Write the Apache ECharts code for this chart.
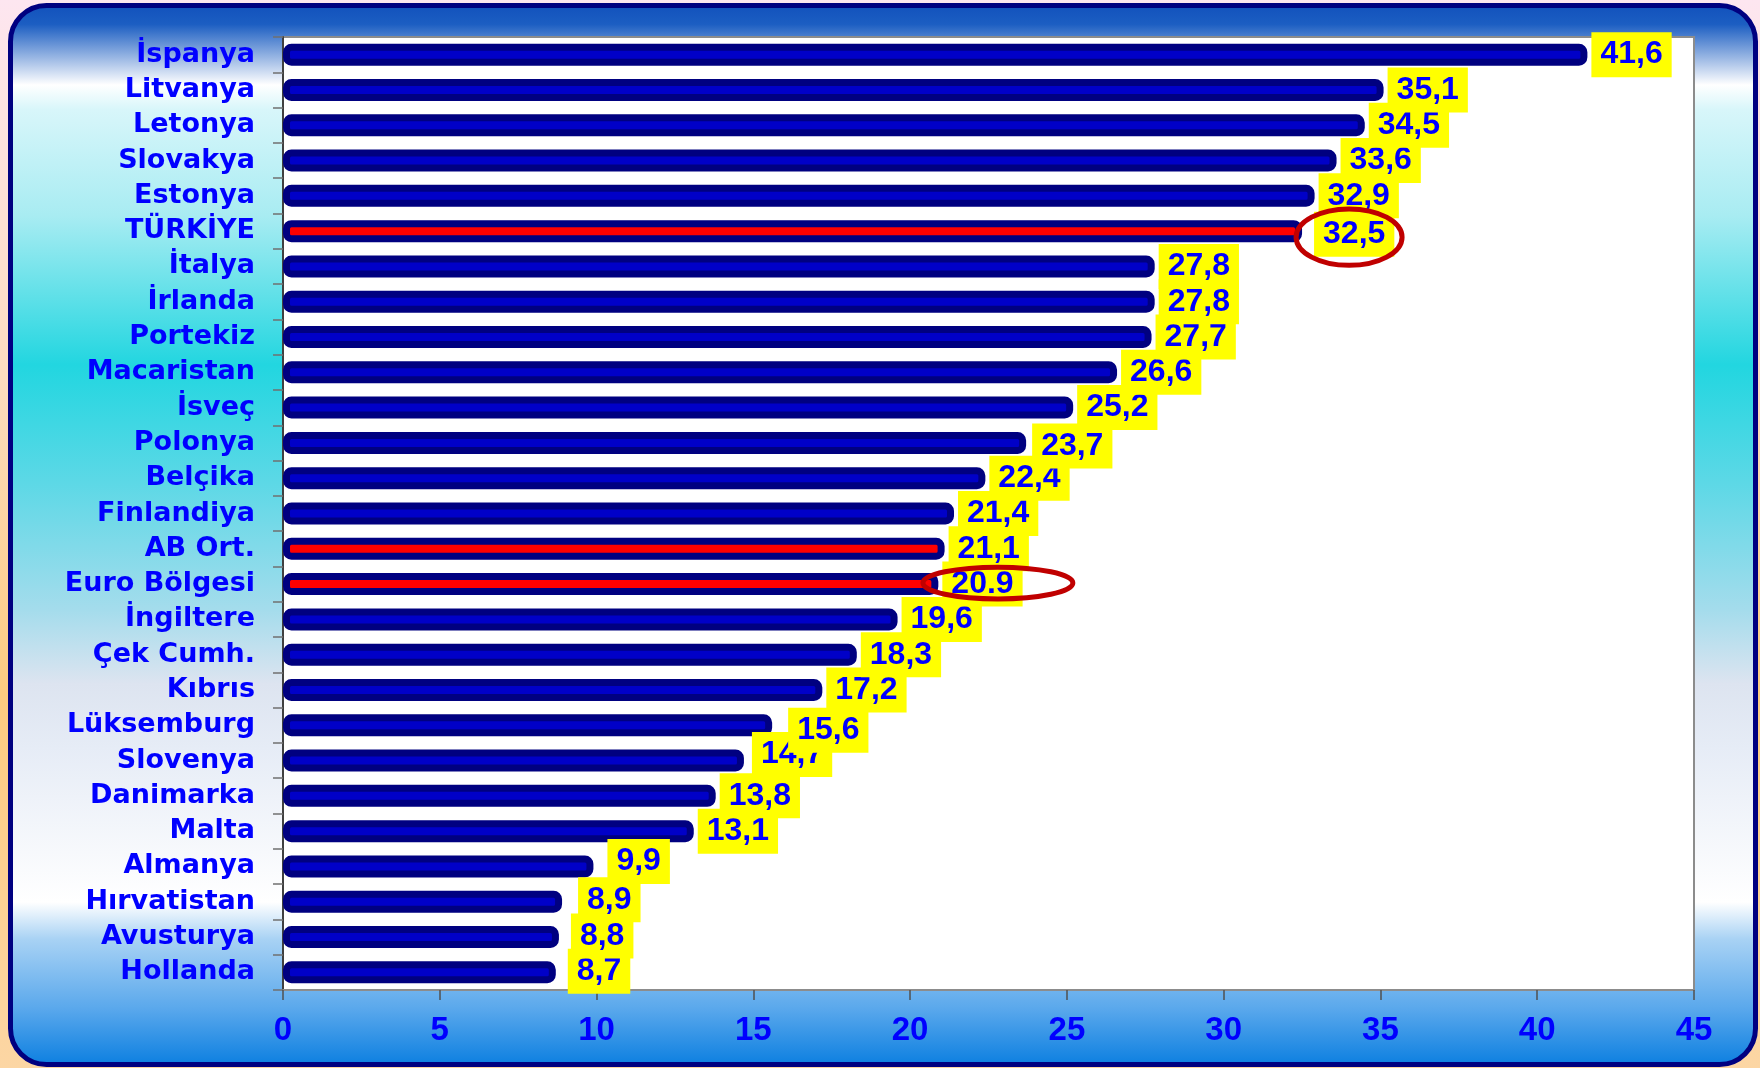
<!DOCTYPE html>
<html>
<head>
<meta charset="utf-8">
<title>Ülkeler</title>
<script src="https://cdn.jsdelivr.net/npm/echarts@6/dist/echarts.min.js"></script>
<style>
  html, body { margin: 0; padding: 0; }
  #chart { width: 1760px; height: 1068px; }
</style>
</head>
<body>
<div id="chart"></div>
<script>
// values, top to bottom
const countries = [
  "İspanya", "Litvanya", "Letonya", "Slovakya", "Estonya", "TÜRKİYE", "İtalya",
  "İrlanda", "Portekiz", "Macaristan", "İsveç", "Polonya", "Belçika", "Finlandiya",
  "AB Ort.", "Euro Bölgesi", "İngiltere", "Çek Cumh.", "Kıbrıs", "Lüksemburg",
  "Slovenya", "Danimarka", "Malta", "Almanya", "Hırvatistan", "Avusturya", "Hollanda",
];
const rates = [
  41.6, 35.1, 34.5, 33.6, 32.9, 32.5, 27.8,
  27.8, 27.7, 26.6, 25.2, 23.7, 22.4, 21.4,
  21.1, 20.9, 19.6, 18.3, 17.2, 15.6,
  14.7, 13.8, 13.1, 9.9, 8.9, 8.8, 8.7,
];
const rateLabels = [
  "41,6", "35,1", "34,5", "33,6", "32,9", "32,5", "27,8",
  "27,8", "27,7", "26,6", "25,2", "23,7", "22,4", "21,4",
  "21,1", "20.9", "19,6", "18,3", "17,2", "15,6",
  "14,7", "13,8", "13,1", "9,9", "8,9", "8,8", "8,7",
];
const redRows = ["TÜRKİYE", "AB Ort.", "Euro Bölgesi"];

// the two hand-drawn ovals: centre on the x axis, half width (axis units), half height (rows)
const ovalRows = ["TÜRKİYE", "Euro Bölgesi"];
const ovalCenter = [34.0, 22.8];
const ovalHalfWidth = [1.69, 2.39];
const ovalHalfHeight = [0.8, 0.45];
const ovalShift = [0.17, -0.03]; // rows, downwards

const font = "'Liberation Sans', Arial, sans-serif";
const wideFont = "'DejaVu Sans', 'Liberation Sans', sans-serif";

// a few labels sit off their bars on the slide
const labelNudge = {
  "TÜRKİYE": [8, 3],
  "Polonya": [2, 3],
  "Lüksemburg": [12, 5],
  "Slovenya": [4, -6],
  "Almanya": [10, -5],
  "Hırvatistan": [12, -2],
  "Avusturya": [8, -1],
  "Hollanda": [8, -1],
};

// drawn bottom row first so the upper labels overlap the lower ones, as on the slide
const rows = countries.slice().reverse();
const rowRates = rates.slice().reverse();
const rowLabels = rateLabels.slice().reverse();

const chart = echarts.init(document.getElementById("chart"));

chart.setOption({
  animation: false,
  graphic: {
    elements: [
      {
        type: "rect",
        z: -20,
        silent: true,
        shape: { x: 0, y: 0, width: 1760, height: 1068 },
        style: {
          fill: new echarts.graphic.LinearGradient(0, 0, 0, 1, [
            { offset: 0, color: "#fde6f0" },
            { offset: 0.35, color: "#fddcc0" },
            { offset: 0.65, color: "#fccb80" },
            { offset: 1, color: "#fcd6a4" },
          ]),
        },
      },
      {
        type: "rect",
        z: -10,
        silent: true,
        shape: { x: 10.5, y: 5.5, width: 1745, height: 1059, r: 36 },
        style: {
          stroke: "#000080",
          lineWidth: 5,
          fill: new echarts.graphic.LinearGradient(0, 0, 0, 1, [
            { offset: 0, color: "#1050bc" },
            { offset: 0.02, color: "#1c5ec2" },
            { offset: 0.077, color: "#ffffff" },
            { offset: 0.1, color: "#d8f6fa" },
            { offset: 0.2, color: "#a8ecf2" },
            { offset: 0.34, color: "#22d6e0" },
            { offset: 0.45, color: "#5cd8e6" },
            { offset: 0.57, color: "#a4dcec" },
            { offset: 0.64, color: "#dde4f0" },
            { offset: 0.7, color: "#e6ecf6" },
            { offset: 0.845, color: "#ffffff" },
            { offset: 0.88, color: "#a8d2f4" },
            { offset: 0.945, color: "#5aa8ec" },
            { offset: 1, color: "#0a7ee0" },
          ]),
        },
      },
    ],
  },
  grid: {
    left: 283,
    right: 66,
    top: 37,
    bottom: 78,
    show: true,
    backgroundColor: "#ffffff",
    borderColor: "#8c8c8c",
    borderWidth: 2,
  },
  xAxis: {
    type: "value",
    min: 0,
    max: 45,
    interval: 5,
    splitLine: { show: false },
    axisLine: { show: true, lineStyle: { color: "#8c8c8c", width: 2 } },
    axisTick: { show: true, length: 10, lineStyle: { color: "#505050", width: 1.5 } },
    axisLabel: { color: "#0000ff", fontFamily: font, fontWeight: "bold", fontSize: 33, margin: 24 },
  },
  yAxis: {
    type: "category",
    data: rows,
    axisLine: { show: true, lineStyle: { color: "#404040", width: 2 } },
    axisTick: { show: true, length: 10, lineStyle: { color: "#707070", width: 1.5 } },
    axisLabel: {
      interval: 0,
      color: "#0000ff",
      fontFamily: wideFont,
      fontWeight: "bold",
      fontSize: 27,
      margin: 28,
    },
  },
  series: [
    {
      type: "bar",
      barWidth: 22,
      z: 2,
      data: rowRates.map((v, i) => ({
        value: v,
        itemStyle: { color: redRows.includes(rows[i]) ? "#ff0000" : "#0000c8" },
        label: labelNudge[rows[i]] ? { offset: labelNudge[rows[i]] } : undefined,
      })),
      itemStyle: { borderColor: "#000080", borderWidth: 7, borderRadius: 5 },
      label: {
        show: true,
        position: "right",
        distance: 4,
        formatter: (p) => rowLabels[p.dataIndex],
        backgroundColor: "#ffff00",
        color: "#0000ff",
        fontFamily: font,
        fontWeight: "bold",
        fontSize: 32,
        lineHeight: 31,
        padding: [7, 9, 7, 9],
      },
    },
    {
      type: "custom",
      coordinateSystem: "cartesian2d",
      silent: true,
      z: 10,
      data: ovalRows.map((row, i) => [ovalCenter[i], row, ovalHalfWidth[i], ovalHalfHeight[i], ovalShift[i]]),
      renderItem: (params, api) => {
        const c = api.coord([api.value(0), api.value(1)]);
        const s = api.size([api.value(2), 1]);
        return {
          type: "ellipse",
          shape: { cx: c[0], cy: c[1] + s[1] * api.value(4), rx: s[0], ry: s[1] * api.value(3) },
          style: { fill: "none", stroke: "#c00000", lineWidth: 5 },
        };
      },
    },
  ],
});

window.addEventListener("resize", () => chart.resize());
</script>
</body>
</html>
